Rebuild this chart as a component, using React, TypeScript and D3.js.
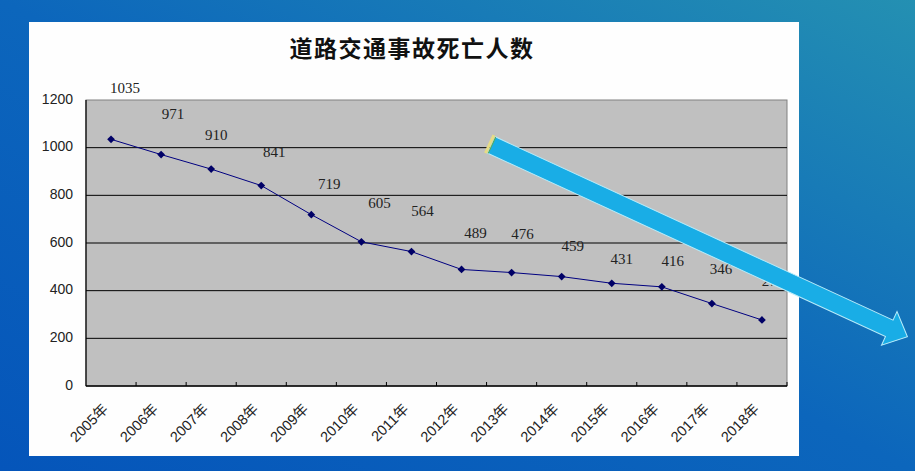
import React, { useMemo } from 'react'
import { scaleBand, scaleLinear, line, symbol, symbolSquare } from 'd3'

// data
const years: string[] = ['2005年', '2006年', '2007年', '2008年', '2009年', '2010年', '2011年',
    '2012年', '2013年', '2014年', '2015年', '2016年', '2017年', '2018年']
const deaths: number[] = [1035, 971, 910, 841, 719, 605, 564, 489, 476, 459, 431, 416, 346, 277]
const yTicks: number[] = [0, 200, 400, 600, 800, 1000, 1200]
const title = '道路交通事故死亡人数'

// hand-placed data label nudges (px, relative to the point)
const labelDx: number[] = [14, 12, 5, 13, 18, 18, 11, 14, 11, 11, 10, 11, 9, 11]
const labelDy: number[] = [-50, -39, -33, -32, -29, -37, -39, -35, -37, -29, -23, -24, -33, -37]

const W = 915, H = 471
const panel = { x: 29, y: 22, w: 770, h: 434 }
const plot = { left: 86, right: 787, top: 100, bottom: 386 }

export default function App() {
    const x = useMemo(() => scaleBand<string>().domain(years).range([plot.left, plot.right]).padding(0), [])
    const y = useMemo(() => scaleLinear().domain([0, 1200]).range([plot.bottom, plot.top]), [])

    const pts: [number, number][] = years.map((yr, i) => [(x(yr) ?? 0) + x.bandwidth() / 2, y(deaths[i])])
    const path = line()(pts) ?? ''
    // excel style diamond = square turned 45deg
    const marker = symbol().type(symbolSquare).size(30)() ?? ''

    // arrow (decoration) in its own frame
    const ax = 491.5, ay = 145, ang = 24.75
    const L = 458, hw = 9, hh = 18.5, hl = 20
    const arrowPts = [[0, -hw], [L - hl, -hw], [L - hl, -hh], [L, 0], [L - hl, hh], [L - hl, hw], [0, hw]]
        .map(p => p.join(',')).join(' ')

    return (
        <svg width={W} height={H} style={{ position: 'absolute', left: 0, top: 0 }}>
            <defs>
                <linearGradient id="bg" x1="0" y1="1" x2="1" y2="0">
                    <stop offset="0" stopColor="#0555ba" />
                    <stop offset="0.5" stopColor="#0c66bc" />
                    <stop offset="1" stopColor="#2490b2" />
                </linearGradient>
            </defs>
            <rect width={W} height={H} fill="url(#bg)" />
            <rect x={panel.x} y={panel.y} width={panel.w} height={panel.h} fill="#fefefe" />

            <text x={412} y={51} textAnchor="middle" dominantBaseline="middle"
                fontFamily="'Noto Sans CJK SC', sans-serif" fontWeight={600} fontSize={23}
                letterSpacing={1.5} fill="#111">{title}</text>

            <rect x={plot.left} y={plot.top} width={plot.right - plot.left} height={plot.bottom - plot.top}
                fill="#c0c0c0" stroke="#808080" strokeWidth={1} />

            {yTicks.filter(t => t > 0 && t < 1200).map(t => (
                <line key={t} x1={plot.left} x2={plot.right} y1={y(t)} y2={y(t)} stroke="#000" strokeWidth={1} />
            ))}
            <line x1={plot.left} x2={plot.left} y1={plot.top} y2={plot.bottom} stroke="#000" strokeWidth={1.2} />
            <line x1={plot.left} x2={plot.right} y1={plot.bottom} y2={plot.bottom} stroke="#000" strokeWidth={1.5} />

            {years.slice(1).map(yr => (
                <line key={yr} x1={x(yr)} x2={x(yr)} y1={plot.bottom} y2={plot.bottom - 4} stroke="#000" />
            ))}
            <line x1={plot.right} x2={plot.right} y1={plot.bottom} y2={plot.bottom - 4} stroke="#000" />

            {yTicks.map(t => (
                <text key={t} x={73} y={y(t)} textAnchor="end" dominantBaseline="middle"
                    fontFamily="'Liberation Sans', Arial, sans-serif" fontSize={14} fill="#222">{t}</text>
            ))}

            {years.map(yr => {
                const cx = (x(yr) ?? 0) + x.bandwidth() / 2
                return (
                    <text key={yr} transform={`translate(${cx - 2},${plot.bottom + 24}) rotate(-45)`}
                        textAnchor="end" fontFamily="'Liberation Sans', 'Noto Sans CJK SC', sans-serif"
                        fontSize={14.5} fill="#222">{yr}</text>
                )
            })}

            <path d={path} fill="none" stroke="#000080" strokeWidth={1} />
            {pts.map(([px, py], i) => (
                <path key={i} d={marker} transform={`translate(${px},${py}) rotate(45)`} fill="#000066" />
            ))}
            {pts.map(([px, py], i) => (
                <text key={'l' + i} x={px + labelDx[i]} y={py + labelDy[i]} textAnchor="middle"
                    dominantBaseline="middle" fontFamily="'Liberation Serif', serif" fontSize={15}
                    fill="#222">{deaths[i]}</text>
            ))}

            <g transform={`translate(${ax},${ay}) rotate(${ang})`}>
                <polygon points={arrowPts} fill="#19ade6" stroke="#b8ecfa" strokeWidth={1} />
                <line x1={-2} x2={-2} y1={-hw - 1} y2={hw + 1} stroke="#e6dc86" strokeWidth={3} />
                <line x1={0.5} x2={0.5} y1={-hw} y2={hw} stroke="#5aa84a" strokeWidth={1} />
            </g>
        </svg>
    )
}
